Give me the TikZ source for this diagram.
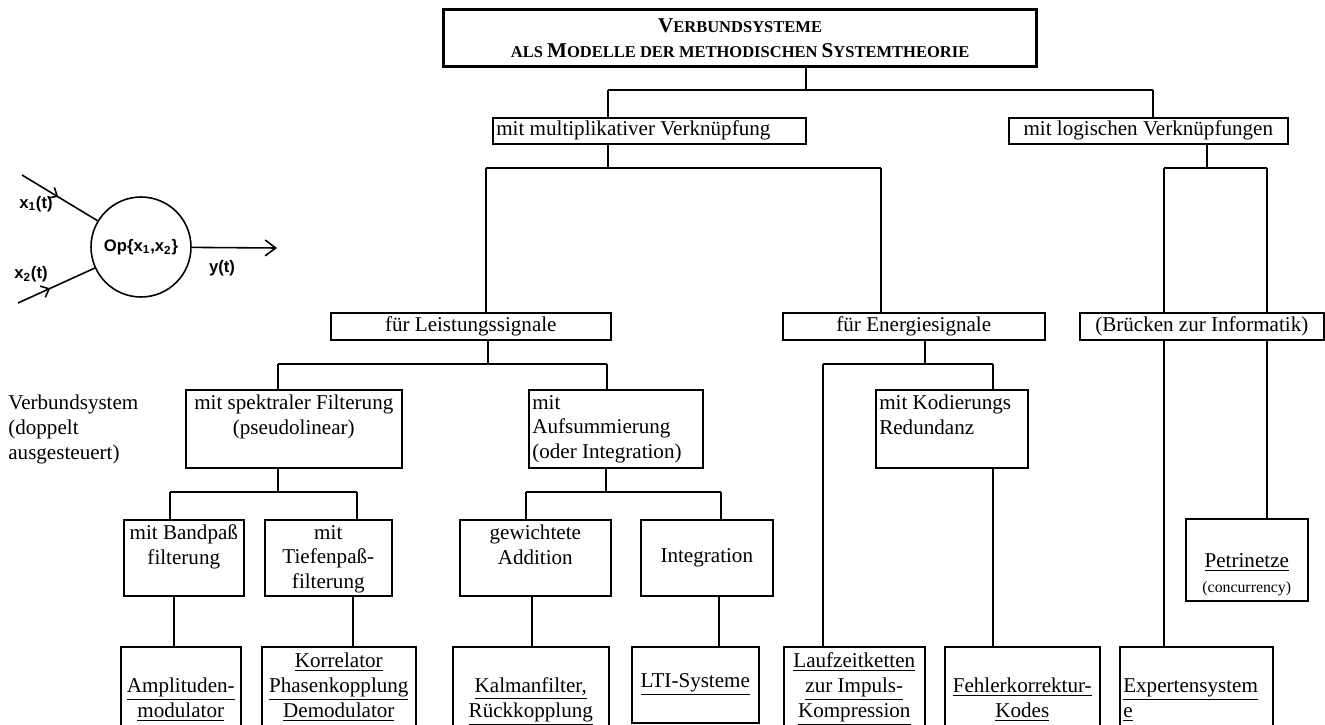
\documentclass[tikz,border=0pt]{standalone}
\usepackage{fontspec}
\setmainfont{Liberation Serif}
\newfontfamily\opfont{Liberation Sans}
\usetikzlibrary{decorations.markings,arrows.meta}
\newcommand{\feld}[4]{\parbox[c][\dimexpr0.02cm*#2-6pt\relax][#3]{\dimexpr0.02cm*#1-4pt\relax}{#4}}
\newcommand{\kap}[1]{{\fontsize{9.4}{13}\selectfont #1}}

\begin{document}
\begin{tikzpicture}[x=0.02cm,y=-0.02cm]
\tikzset{kasten/.style={draw, line width=0.9pt, inner xsep=2pt, inner ysep=3pt, anchor=north west, font=\fontsize{12}{14.2}\selectfont}}
\tikzset{linie/.style={line width=0.9pt}}
\tikzset{mitte/.style={postaction={decorate}, decoration={markings, mark=at position #1 with {\arrow{Straight Barb[length=4pt,width=7pt]}}}}}
\tikzset{oplabel/.style={inner sep=0pt, font=\opfont\bfseries\fontsize{9.5}{11}\selectfont}}
\useasboundingbox (0,0) rectangle (1325,724);

% Verknuepfung zweier Signale
\node[circle, draw, line width=0.9pt, minimum size=2cm, inner sep=0pt, oplabel] (op) at (141,247) {Op\{x\textsubscript{1},x\textsubscript{2}\}};
\coordinate (ein1) at (22,175);
\coordinate (ein2) at (18,303);
\coordinate (aus) at (277,248);
\draw[linie, mitte=0.48] (ein1) -- (op);
\draw[linie, mitte=0.42] (ein2) -- (op);
\draw[linie, -{Straight Barb[length=6pt,width=9pt]}] (op) -- (aus);
\node[oplabel] (x1) at (36,204) {x\textsubscript{1}(t)};
\node[oplabel] (x2) at (31,274) {x\textsubscript{2}(t)};
\node[oplabel] (yt) at (222,268) {y(t)};

\node[anchor=north west, inner sep=0pt, align=left, font=\fontsize{12}{14.2}\selectfont] (verbund) at (8,395) {Verbundsystem\\(doppelt\\ausgesteuert)};

% Kaesten
\node[kasten, line width=1.8pt] (titel) at (442,8) {\feld{593}{57}{c}{\centering\bfseries V\kap{ERBUNDSYSTEME}\\\kap{ALS }M\kap{ODELLE DER METHODISCHEN }S\kap{YSTEMTHEORIE}}};
\node[kasten] (mult) at (492,117) {\feld{313}{26}{c}{\raggedright mit multiplikativer Verknüpfung}};
\node[kasten] (logik) at (1008,117) {\feld{279}{26}{c}{\centering mit logischen Verknüpfungen}};
\node[kasten] (leist) at (330,312) {\feld{280}{27}{c}{\centering für Leistungssignale}};
\node[kasten] (energie) at (782,312) {\feld{262}{27}{c}{\centering für Energiesignale}};
\node[kasten] (bruecke) at (1079,312) {\feld{244}{27}{c}{\centering (Brücken zur Informatik)}};
\node[kasten] (spektral) at (185,389) {\feld{216}{78}{t}{\centering mit spektraler Filterung\\(pseudolinear)}};
\node[kasten] (aufsum) at (528,389) {\feld{174}{78}{t}{\raggedright mit\\Aufsummierung\\(oder Integration)}};
\node[kasten] (kodier) at (875,389) {\feld{152}{78}{t}{\raggedright mit Kodierungs\\Redundanz}};
\node[kasten] (bandpass) at (123,519) {\feld{120}{76}{t}{\centering mit Bandpaß\\filterung}};
\node[kasten] (tiefpass) at (264,519) {\feld{127}{76}{t}{\centering mit\\Tiefenpaß-\\filterung}};
\node[kasten] (addition) at (459,519) {\feld{151}{76}{t}{\centering gewichtete\\Addition}};
\node[kasten] (integr) at (640,519) {\feld{132}{76}{c}{\centering Integration}};
\node[kasten] (petri) at (1185,518) {\feld{122}{79}{b}{\centering\underline{Petrinetze}\\{\fontsize{9}{11}\selectfont (concurrency)}}};
\node[kasten] (ampl) at (120,646) {\feld{120}{76}{b}{\centering\underline{Amplituden-}\\\underline{modulator}}};
\node[kasten] (korr) at (261,646) {\feld{154}{76}{b}{\centering\underline{Korrelator}\\\underline{Phasenkopplung}\\\underline{Demodulator}}};
\node[kasten] (kalman) at (452,646) {\feld{156}{76}{b}{\centering\underline{Kalmanfilter,}\\\underline{Rückkopplung}}};
\node[kasten] (lti) at (631,646) {\feld{127}{76}{c}{\centering\underline{LTI-Systeme}}};
\node[kasten] (laufzeit) at (783,646) {\feld{141}{76}{b}{\centering\underline{Laufzeitketten}\\\underline{zur Impuls-}\\\underline{Kompression}}};
\node[kasten] (fehler) at (944,646) {\feld{155}{76}{b}{\centering\underline{Fehlerkorrektur-}\\\underline{Kodes}}};
\node[kasten] (experten) at (1119,646) {\feld{153}{76}{b}{\raggedright\underline{Expertensystem}\\\underline{e}}};

% Verzweigungen
\coordinate (a0) at (806,90); \coordinate (a1) at (608,90); \coordinate (a2) at (1153,90);
\coordinate (b0) at (608,168); \coordinate (b1) at (486,168); \coordinate (b2) at (881,168);
\coordinate (c0) at (1207,168); \coordinate (c1) at (1164,168); \coordinate (c2) at (1267,168);
\coordinate (d0) at (488,364); \coordinate (d1) at (278,364); \coordinate (d2) at (607,364);
\coordinate (e0) at (925,364); \coordinate (e1) at (823,364); \coordinate (e2) at (993,364);
\coordinate (f0) at (278,492); \coordinate (f1) at (170,492); \coordinate (f2) at (357,492);
\coordinate (g0) at (606,492); \coordinate (g1) at (526,492); \coordinate (g2) at (721,492);
\coordinate (v1) at (174,620); \coordinate (v2) at (353,620); \coordinate (v3) at (532,620); \coordinate (v4) at (719,620);

\draw[linie] (titel.south -| a0) -- (a0) (a1) -- (a2) (a1) -- (mult.north -| a1) (a2) -- (logik.north -| a2);
\draw[linie] (mult.south -| b0) -- (b0) (b1) -- (b2) (b1) -- (leist.north -| b1) (b2) -- (energie.north -| b2);
\draw[linie] (logik.south -| c0) -- (c0) (c1) -- (c2) (c1) -- (bruecke.north -| c1) (c2) -- (bruecke.north -| c2);
\draw[linie] (bruecke.south -| c1) -- (experten.north -| c1) (bruecke.south -| c2) -- (petri.north -| c2);
\draw[linie] (leist.south -| d0) -- (d0) (d1) -- (d2) (d1) -- (spektral.north -| d1) (d2) -- (aufsum.north -| d2);
\draw[linie] (energie.south -| e0) -- (e0) (e1) -- (e2) (e1) -- (laufzeit.north -| e1) (e2) -- (kodier.north -| e2);
\draw[linie] (kodier.south -| e2) -- (fehler.north -| e2);
\draw[linie] (spektral.south -| f0) -- (f0) (f1) -- (f2) (f1) -- (bandpass.north -| f1) (f2) -- (tiefpass.north -| f2);
\draw[linie] (aufsum.south -| g0) -- (g0) (g1) -- (g2) (g1) -- (addition.north -| g1) (g2) -- (integr.north -| g2);
\draw[linie] (bandpass.south -| v1) -- (ampl.north -| v1) (tiefpass.south -| v2) -- (korr.north -| v2);
\draw[linie] (addition.south -| v3) -- (kalman.north -| v3) (integr.south -| v4) -- (lti.north -| v4);
\end{tikzpicture}
\end{document}
